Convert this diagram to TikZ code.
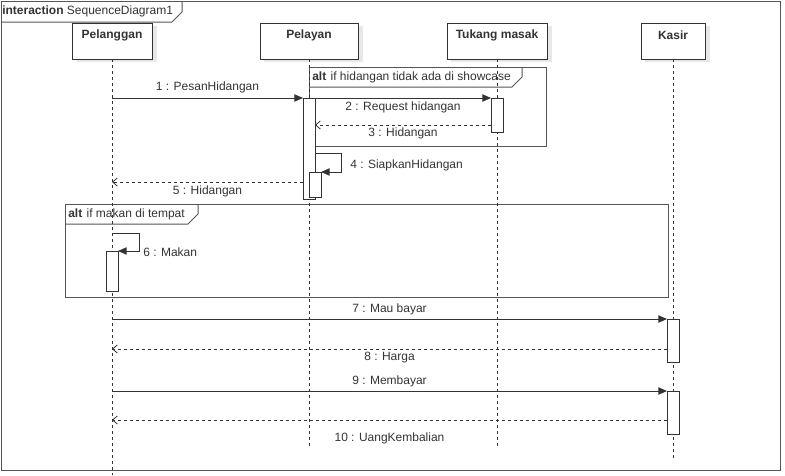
\documentclass[tikz,border=0pt]{standalone}
\usepackage{fontspec}
\setmainfont{Liberation Sans}
\usetikzlibrary{arrows.meta,fit,calc}
\definecolor{lc}{HTML}{333333}
\definecolor{fc}{HTML}{555555}
\definecolor{tc}{HTML}{333333}
\definecolor{sh}{HTML}{E8E8E8}
\begin{document}
\begin{tikzpicture}[x=0.75pt,y=-0.75pt,
  font=\fontsize{9}{11}\selectfont,
  headbox/.style={draw=lc, fill=white, inner sep=0pt, outer sep=0pt, line width=0.75pt},
  headtxt/.style={text=tc, inner sep=0pt, font=\fontsize{9}{11}\selectfont\bfseries},
  actbox/.style={draw=lc, fill=white, inner sep=0pt, outer sep=0pt, line width=0.6pt},
  lifeline/.style={draw=lc, dash pattern=on 2.25pt off 2.25pt, line width=0.6pt},
  msg/.style={draw=lc, line width=0.75pt, -{Triangle[length=6.5pt,width=5.5pt]}},
  ret/.style={draw=lc, line width=0.6pt, dash pattern=on 2.25pt off 2.25pt, -{Straight Barb[length=3.5pt,width=6pt]}},
  lbl/.style={text=tc, inner sep=0pt},
  sdframe/.style={draw=fc, line width=0.75pt},
]
\useasboundingbox (0,0) rectangle (785,475);

% outer frame
\draw[sdframe] (1,1) rectangle (780,470);
\draw[sdframe] (1,22) -- (172,22) -- (182,12) -- (182,1);
\node[lbl, anchor=west] (title) at (2,11.5) {\textbf{interaction} SequenceDiagram1};

% alt frames
\draw[sdframe] (309,67) rectangle (546,146);
\draw[sdframe] (309,87) -- (512,87) -- (522,77) -- (522,67);
\node[lbl, anchor=west] (alt1t) at (312,77) {\textbf{alt}\hspace{0.8pt} if hidangan tidak ada di showcase};
\draw[sdframe] (65,204) rectangle (668,297);
\draw[sdframe] (65,224) -- (188,224) -- (198,214) -- (198,204);
\node[lbl, anchor=west] (alt2t) at (68,214) {\textbf{alt}\hspace{0.8pt} if makan di tempat};

% shadows
\fill[sh] (76,26) rectangle (157,62);
\fill[sh] (264,26) rectangle (363,62);
\fill[sh] (451,26) rectangle (552,62);
\fill[sh] (645,26) rectangle (710,62);

% lifeline heads
\node[headbox, fit={(72,23)(152,59)}] (pl) {};
\node[headtxt] (plt) at ($(pl.north)+(0,12)$) {Pelanggan};
\node[headbox, fit={(260,23)(358,59)}] (py) {};
\node[headtxt] (pyt) at ($(py.north)+(0,12)$) {Pelayan};
\node[headbox, fit={(447,23)(547,59)}] (tm) {};
\node[headtxt] (tmt) at ($(tm.north)+(0,12)$) {Tukang masak};
\node[headbox, fit={(641,23)(705,59)}] (ks) {};
\node[headtxt] (kst) at ($(ks.north)+(0,12)$) {Kasir};

% lifeline ends
\coordinate (plend) at (112,475);
\coordinate (pyend) at (309,447);
\coordinate (tmend) at (497,447);
\coordinate (ksend) at (673,458);
\draw[lifeline] (pl.south) -- (plend);
\draw[lifeline] (py.south) -- (pyend);
\draw[lifeline] (tm.south) -- (tmend);
\draw[lifeline] (ks.south) -- (ksend);

% message y levels
\coordinate (y3) at (0,125);
\coordinate (y4) at (0,153);
\coordinate (y5) at (0,182);
\coordinate (y6) at (0,233);
\coordinate (y8) at (0,349);
\coordinate (y10) at (0,420);

% activations
\node[actbox, fit={(303,98)(315,199)}] (a1) {};
\node[actbox, fit={(491,98)(503,132)}] (a2) {};
\node[actbox, fit={(309,172)(321,197)}] (a3) {};
\node[actbox, fit={(106,251)(118,291)}] (a4) {};
\node[actbox, fit={(667,319)(679,362)}] (a5) {};
\node[actbox, fit={(667,391)(679,434)}] (a6) {};

% messages
\draw[msg] (pl.south |- a1.north west) -- node[lbl, midway, yshift=8pt] (l1) {1 : PesanHidangan} (a1.north west);
\draw[msg] (a1.north east) -- node[lbl, midway, yshift=-6.75pt] (l2) {2 : Request hidangan} (a2.north west);
\draw[ret] (a2.west |- y3) -- node[lbl, midway, yshift=-6.5pt] (l3) {3 : Hidangan} (a1.east |- y3);
\draw[msg] (a1.east |- y4) -- ++(26,0) |- (a3.north east);
\node[lbl, anchor=west] (l4) at (350,165.5) {4 : SiapkanHidangan};
\draw[ret] (a1.west |- y5) -- node[lbl, midway, yshift=-6.75pt] (l5) {5 : Hidangan} (pl.south |- y5);
\draw[msg] (pl.south |- y6) -- ++(27,0) |- (a4.north east);
\node[lbl, anchor=west] (l6) at (143,252) {6 : Makan};
\draw[msg] (pl.south |- a5.north west) -- node[lbl, midway, yshift=7pt] (l7) {7 : Mau bayar} (a5.north west);
\draw[ret] (a5.west |- y8) -- node[lbl, midway, yshift=-6.5pt] (l8) {8 : Harga} (pl.south |- y8);
\draw[msg] (pl.south |- a6.north west) -- node[lbl, midway, yshift=7pt] (l9) {9 : Membayar} (a6.north west);
\draw[ret] (a6.west |- y10) -- node[lbl, midway, yshift=-14pt] (l10) {10 : UangKembalian} (pl.south |- y10);

\end{tikzpicture}
\end{document}
